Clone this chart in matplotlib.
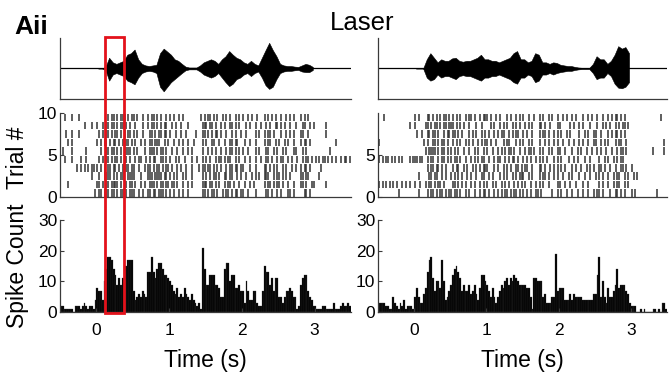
# Laser trials: song waveform, spike raster and PSTH for two stimuli (Aii).

import numpy as np
import matplotlib.pyplot as plt
from matplotlib.patches import Rectangle
from matplotlib.transforms import blended_transform_factory

plt.rcParams["font.family"] = ["Liberation Sans", "DejaVu Sans"]

# ---- data ----
# PSTH: spike counts in 25 ms bins from -0.5 s to 3.5 s
counts_left = [
    2, 2, 1, 1, 1, 1, 1, 0, 2, 2, 2, 1, 2, 3, 2, 1, 2, 2, 1, 4,
    8, 7, 7, 4, 10, 14, 18, 18, 17, 14, 12, 9, 11, 9, 11, 9, 15, 17, 17, 17,
    7, 4, 5, 6, 5, 7, 6, 5, 13, 13, 18, 13, 11, 14, 16, 16, 14, 12, 12, 11,
    10, 9, 7, 6, 8, 5, 6, 5, 8, 6, 5, 4, 6, 4, 3, 2, 3, 1, 21, 14,
    9, 9, 12, 12, 12, 9, 9, 8, 5, 5, 14, 16, 16, 10, 12, 12, 8, 8, 9, 7,
    7, 3, 10, 7, 4, 4, 7, 7, 3, 2, 2, 7, 15, 13, 13, 9, 11, 7, 11, 11,
    5, 5, 3, 5, 7, 7, 8, 7, 5, 5, 1, 2, 9, 11, 12, 12, 7, 5, 4, 2,
    2, 1, 1, 1, 2, 2, 1, 1, 1, 1, 3, 1, 1, 1, 2, 3, 2, 2, 3, 2,
]
counts_right = [
    3, 3, 3, 3, 2, 2, 1, 1, 5, 3, 2, 1, 3, 2, 4, 1, 2, 2, 2, 1,
    5, 8, 5, 3, 3, 6, 8, 13, 17, 18, 11, 7, 10, 10, 8, 17, 10, 4, 5, 7,
    9, 12, 14, 15, 13, 11, 7, 9, 7, 7, 9, 6, 7, 9, 6, 4, 8, 12, 12, 10,
    9, 7, 5, 8, 5, 3, 5, 7, 9, 8, 10, 11, 9, 11, 10, 12, 11, 10, 9, 9,
    9, 9, 8, 8, 5, 1, 11, 11, 10, 10, 10, 5, 6, 3, 3, 3, 5, 5, 19, 7,
    8, 8, 8, 4, 4, 4, 6, 4, 6, 5, 5, 5, 5, 4, 4, 4, 4, 4, 4, 6,
    6, 12, 18, 5, 10, 5, 3, 8, 5, 5, 7, 9, 14, 8, 9, 9, 9, 7, 6, 3,
    2, 2, 2, 0, 0, 1, 0, 1, 0, 0, 0, 0, 1, 1, 0, 1, 0, 3, 3, 1,
]

# song envelope (upper / lower), 50 ms steps from 0 to 3 s
env_left_up = [
    0, 0, 0.05, 0.35, 0.2, 0.15, 0.2, 0.25, 0.45, 0.5,
    0.62, 0.3, 0.15, 0.1, 0.08, 0.1, 0.12, 0.5, 0.65, 0.55,
    0.45, 0.3, 0.25, 0.15, 0.06, 0.03, 0.03, 0.03, 0.1, 0.2,
    0.25, 0.3, 0.25, 0.15, 0.3, 0.4, 0.57, 0.45, 0.35, 0.3,
    0.2, 0.15, 0.25, 0.15, 0.1, 0.35, 0.6, 0.84, 0.6, 0.4,
    0.15, 0.1, 0.08, 0.08, 0.06, 0.05, 0.1, 0.15, 0.12, 0.05,
]
env_left_lo = [
    0, 0, 0.05, 0.4, 0.2, 0.15, 0.2, 0.25, 0.4, 0.45,
    0.52, 0.3, 0.15, 0.1, 0.08, 0.1, 0.15, 0.6, 0.75, 0.6,
    0.45, 0.35, 0.25, 0.15, 0.06, 0.03, 0.03, 0.03, 0.1, 0.2,
    0.25, 0.3, 0.25, 0.15, 0.3, 0.45, 0.58, 0.5, 0.35, 0.3,
    0.2, 0.15, 0.25, 0.15, 0.1, 0.3, 0.55, 0.67, 0.6, 0.35,
    0.15, 0.1, 0.08, 0.08, 0.06, 0.05, 0.1, 0.12, 0.12, 0.05,
]
env_right_up = [
    0, 0, 0, 0.3, 0.5, 0.35, 0.2, 0.3, 0.25, 0.25,
    0.33, 0.35, 0.25, 0.22, 0.25, 0.25, 0.3, 0.35, 0.45, 0.3,
    0.3, 0.25, 0.25, 0.2, 0.25, 0.3, 0.35, 0.5, 0.57, 0.3,
    0.3, 0.2, 0.25, 0.5, 0.45, 0.2, 0.2, 0.15, 0.2, 0.18,
    0.12, 0.1, 0.08, 0.08, 0.05, 0.03, 0.02, 0.02, 0.02, 0.15,
    0.4, 0.3, 0.3, 0.15, 0.25, 0.45, 0.73, 0.65, 0.7, 0.5,
]
env_right_lo = [
    0, 0, 0, 0.3, 0.4, 0.35, 0.2, 0.3, 0.25, 0.25,
    0.3, 0.35, 0.25, 0.22, 0.25, 0.25, 0.3, 0.35, 0.4, 0.3,
    0.3, 0.25, 0.25, 0.2, 0.25, 0.3, 0.35, 0.45, 0.5, 0.3,
    0.3, 0.2, 0.25, 0.45, 0.4, 0.2, 0.2, 0.15, 0.2, 0.15,
    0.12, 0.1, 0.08, 0.08, 0.05, 0.03, 0.02, 0.02, 0.02, 0.15,
    0.35, 0.3, 0.3, 0.15, 0.25, 0.5, 0.63, 0.65, 0.6, 0.45,
]

# raster: one list per trial (trial 1 first), 8 strings of 0.5 s each,
# one character per 25 ms bin, "|" = spike
raster_left = [
    ["...................|", ".||.|||.||.|.||.|.||", "|..|.|..||.||.|||.|.", "|.|..|.|..|.......||",
     ".|.||.|..|.||.|.||.|", "|..|...|.....||.|..|", ".|...||.|.....||.|..", "...................."],
    ["....|...............", "||.|.||.||||.|..|.||", ".|..|.|..|||.|.||.||", ".||.|..|..|.|.....||",
     "|.||.|.|..|.||.|..|.", ".|..|.|.....|.||.|.|", "|.|..|..|...||.|..||", "......|............."],
    [".................|..", ".|..||||.|.|.||..|||", "|...|...|||.||||.||.", "|.|.|..|.|..|.....|.",
     "|.|.||.|..||.||..|.|", "..|..|.|.|..|||..|.|", "|.|.|.|.....||.||...", "..|................."],
    [".........|.|.|.|.||.", "|.|.|.||.||.|.|.||.|", "|..|..|.||.|.||.|.||", ".|..|.|..|..|...|.||",
     ".||.|.|.|..|.||.||.|", "|...|..|....||.|.|.|", "..|.|..|.|..|.||.|..", "...|................"],
    ["..|...|....|..|.....", ".|.|.||.|.||.|.||.|.", ".|.||..|.|.||..||.|.", "|..|.|..|...|..|..|.",
     "|.|..|.||.|.||..|.|.", ".|..|..|..|..||.|..|", ".||..|.|..|..|.||.|.", "|.|.||.|.|.|..|.||.|"],
    [".|....|.......|.....", "..|..||.||.|.|..|||.", "|.|...|..|||.|.||.|.", ".|..|..|..|.|.....|.",
     ".|.|.|..|..|.||.|.|.", "|..|...|.|...||..|.|", "..|.|...||...|.|....", "........|..........."],
    ["....|.|.............", "|.|.||.|.||.|.|.||.|", ".|..|.|..||.|||..|.|", "..|..|.|..|..|....|.",
     "|..||..|..|..||.||..", ".|..|..|....|.||..|.", "|..|.|..|...|.||.|..", "...........|........"],
    ["...|..|...|.........", ".|.|.||.|.||.|.|.||.", "|.|..|...||.|.||.||.", "|..|..|..|....|...||",
     ".|.|.||.|..|..|.|..|", "..|....|.|..|.||.|..", ".|..|.|.|...||..|...", "......|............."],
    [".............|...|..", "|..|.||.||.|.||.|.|.", ".|...|..|.||.|.|.||.", ".|.|..|...|.......||",
     "|.||.|..|.|..||.|.|.", "..|.|..|..|..|.|..||", ".|.|..|..|...||..|.|", "......|............."],
    ["..|...|...|.........", "......|.||.|.|||.|.|", "|.|..|..|.||.|.|..|.", "|.|..|.|.........|.|",
     ".||.|.|..|.|.|..|.|.", "|..|.|..|...|.|.|.|.", ".|..|.|.|...|.|.|...", "...................."],
]
raster_right = [
    ["...........|........", "..|....|.||.|.||.|.|", "|.||.|..|.|..|..|.||", ".|..|.|.|.||.|.||.|.",
     "|.|.|..||.|.....|..|", ".|..|..|..|..|..|..|", ".||.|...|..||.|.|...", "|.|...........|....."],
    ["|.|.|.|.|.|..|.|.|..", "|..|..|.||.|.||.|...", ".||.|.|.|..|.|..|.|.", "|..|.|..|.|.|..|.|.|",
     ".|..|..|.|.|..|....|", "|..|..|..|...|..|...", "..|.|..|..|.||..|.|.", "...................."],
    ["....................", "..|.....||.||..|.|..", "|.|.|.|..|.|..|..||.", ".|.|...|.|.|..|.|.||",
     "|..|.|...|.||.|..|.|", "..|..|.|...|..|..|..", "|.|.|..|..|.||..|.|.", ".|.|................"],
    ["....................", ".......|.||.||.|.|..", ".|.||..|.|..|.|.|.||", "|...|.|..|.|.|..||.|",
     ".||..|...||.|..|.|.|", ".|.|...|.|..|..|.|.|", "..||.|..|..|..||.|..", "|..................."],
    ["|.|.||.|.|.|.|...|.|", "||.||..|.||..|.||.|.", "|.||.|..|..|.|.|.||.", ".|..|.||..|.|.||.|..",
     "|.|.|..|.|.|.|...|.|", ".|...|..|.|...|..|..", "..|..|.|..|.|.||....", "...................."],
    ["....................", "......|.||||.|.||.|.", "|.|.|..|..|..|.|..|.", "|..|..|.|.|.||.|..|.",
     ".|.||.|..|.|..|.|..|", "|..|...|..|.|..|..|.", ".|.|..|..|..|.||.|..", "............|.....|."],
    ["|...................", ".....|.|..||.|.||.|.", ".|.|.|..|.|.|..|.|.|", "|.|..|...|.||...|.|.",
     "|..|.|...|..|.|..|.|", "..|..|..|..|.|..|..|", "|..|.|.|...|.||..|..", "..................|."],
    ["....................", ".|..|..||.||.|..|.||", ".||.|.|...|.|.|..|.|", ".|..|.|.||..|.|.||..",
     "|.|..|...|.||.|..|.|", ".|..|.|....|..|.|..|", "|..|...|.|.||.|.|...", "...................."],
    [".................|..", "|.....||.|.||.|.||.|", "||.|.|.|..|...|..|..", "..|.|..|.|.|..|.|.|.",
     ".|.|.|...||.|..|...|", "|.....|.|..|.|...|..", ".|..|.|.|..|.|.||.|.", "...................."],
    ["...|................", "|.|....||.|.|.|.||.|", ".|.|.|..|.||.|..|.||", "|.|..|.|...|.|..|.|.",
     "|..|..|..|.|..|.|..|", "..|.|..|.|...|..|.|.", ".|..|..|.|.||.|.|...", "................|..."],
]

highlight_window = (0.124, 0.386)  # red box on the left stimulus (s)

# ---- layout ----
t_start, t_end = -0.5, 3.5
bin_w = 0.025
seg_w = 0.5
env_w = 0.05
axis_col = "#3a3a3a"
tick_fs = 12.5
label_fs = 16.5

fig = plt.figure(figsize=(6.69, 3.72), dpi=100)


def style_axes(ax):
    for side in ("top", "right"):
        ax.spines[side].set_visible(False)
    for side in ("left", "bottom"):
        ax.spines[side].set_color(axis_col)
        ax.spines[side].set_linewidth(0.9)
    ax.set_xlim(t_start, t_end)
    ax.tick_params(direction="in", length=3, width=0.8, color=axis_col,
                   labelsize=tick_fs, pad=2)


def draw_column(x0, width, env_up, env_lo, raster, counts, raster_ticks):
    # song waveform, envelope points at the centre of each 50 ms step
    ax_w = fig.add_axes([x0, 0.734, width, 0.164])
    style_axes(ax_w)
    centres = (np.arange(len(env_up)) + 0.5) * env_w
    ax_w.axhline(0, color="k", lw=0.9)
    ax_w.fill_between(centres, -np.asarray(env_lo), env_up, color="k", lw=0.4,
                      edgecolor="k")
    ax_w.set_ylim(-1, 1)
    ax_w.set_xticks([])
    ax_w.set_yticks([])

    # raster
    ax_r = fig.add_axes([x0, 0.470, width, 0.226])
    style_axes(ax_r)
    for trial, segments in enumerate(raster):
        xs = []
        for s, seg in enumerate(segments):
            for j, c in enumerate(seg):
                if c == "|":
                    xs.append(t_start + s * seg_w + (j + 0.5) * bin_w)
        ax_r.vlines(xs, trial + 0.05, trial + 0.95, color="0.2", lw=1.1)
    ax_r.set_ylim(0, 10)
    ax_r.set_yticks(raster_ticks)
    ax_r.set_xticks([])

    # PSTH
    ax_p = fig.add_axes([x0, 0.161, width, 0.247])
    style_axes(ax_p)
    centers = t_start + (np.arange(len(counts)) + 0.5) * bin_w
    ax_p.bar(centers, counts, width=bin_w, color="k", edgecolor="0.2", linewidth=0.2)
    ax_p.set_ylim(0, 30)
    ax_p.set_yticks([0, 10, 20, 30])
    ax_p.set_xticks([0, 1, 2, 3])
    ax_p.tick_params(axis="x", pad=8)
    ax_p.set_xlabel("Time (s)", fontsize=label_fs, labelpad=8)
    return ax_w, ax_r, ax_p


axes_left = draw_column(0.0897, 0.435, env_left_up, env_left_lo, raster_left,
                        counts_left, [0, 5, 10])
axes_right = draw_column(0.565, 0.432, env_right_up, env_right_lo, raster_right,
                         counts_right, [0, 5])

# red highlight box spanning all three rows of the left column
trans = blended_transform_factory(axes_left[2].transData, fig.transFigure)
box = Rectangle((highlight_window[0], 0.159), highlight_window[1] - highlight_window[0], 0.741,
                fill=False, edgecolor="#e3121b", lw=2, transform=trans, clip_on=False)
fig.add_artist(box)

fig.text(0.022, 0.927, "Aii", fontsize=19, fontweight="bold", va="center", ha="left")
fig.text(0.541, 0.938, "Laser", fontsize=18.5, va="center", ha="center")
fig.text(0.026, 0.575, "Trial #", fontsize=label_fs, rotation=90, va="center", ha="center")
fig.text(0.026, 0.285, "Spike Count", fontsize=label_fs, rotation=90, va="center", ha="center")

plt.savefig("out.png", dpi=100)
